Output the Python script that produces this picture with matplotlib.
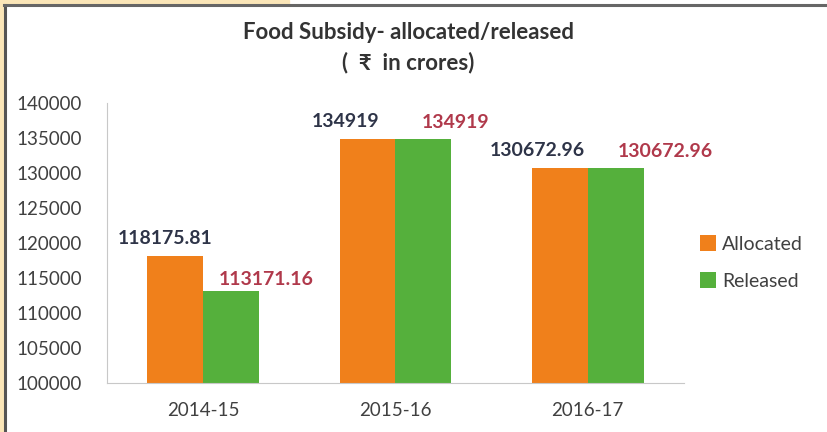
import matplotlib.pyplot as plt
import numpy as np
from matplotlib.patches import Rectangle

years = ["2014-15", "2015-16", "2016-17"]
allocated = [118175.81, 134919, 130672.96]
released = [113171.16, 134919, 130672.96]
alloc_labels = ["118175.81", "134919", "130672.96"]
rel_labels = ["113171.16", "134919", "130672.96"]

plt.rcParams['font.family'] = ['Lato', 'DejaVu Sans']

fig = plt.figure(figsize=(8.27, 4.32), dpi=100)
ax = fig.add_axes([0.129, 0.1134, 0.698, 0.6482])

x = np.arange(len(years))
w = 0.29
ax.bar(x - w / 2, allocated, w, color='#F0801B', label='Allocated')
ax.bar(x + w / 2, released, w, color='#55B03C', label='Released')

# data labels (Excel-style, shifted off the bar centres)
alloc_dx = [-10, -22, -22]
rel_dx = [35, 32, 50]
for i in range(len(years)):
    ax.annotate(alloc_labels[i], (x[i] - w / 2, allocated[i]), xytext=(alloc_dx[i], 9),
                textcoords='offset pixels', ha='center', va='bottom',
                fontsize=14, fontweight='bold', color='#2E3448')
    ax.annotate(rel_labels[i], (x[i] + w / 2, released[i]), xytext=(rel_dx[i], 3 if i == 0 else 8),
                textcoords='offset pixels', ha='center', va='bottom',
                fontsize=14, fontweight='bold', color='#B0394B')

ax.set_xlim(-0.5, 2.5)
ax.set_ylim(100000, 140000)
ax.set_yticks(np.arange(100000, 140001, 5000))
ax.set_xticks(x)
ax.set_xticklabels(years)
ax.tick_params(axis='both', length=0, labelsize=13.5, labelcolor='#404040')
ax.tick_params(axis='y', pad=18)
ax.tick_params(axis='x', pad=14)
for s in ['top', 'right']:
    ax.spines[s].set_visible(False)
for s in ['left', 'bottom']:
    ax.spines[s].set_color('#C8C8C8')

ax.legend(loc='center left', bbox_to_anchor=(0.997, 0.43), frameon=False, fontsize=14,
          handlelength=0.85, handleheight=0.85, handletextpad=0.3, labelspacing=1.0,
          labelcolor='#404040')

fig.text(0.494, 0.925, "Food Subsidy- allocated/released", ha='center', va='center',
         fontsize=16, fontweight='bold', color='#333333')
fig.text(0.494, 0.855, "(  \u20b9  in crores)", ha='center', va='center',
         fontsize=16, fontweight='bold', color='#333333')

# frame lines and faint gold corner
fig.patches.append(Rectangle((0, 0.99), 0.35, 0.01, transform=fig.transFigure,
                             color='#FBE6B8', zorder=0))
fig.patches.append(Rectangle((0, 0), 0.004, 1, transform=fig.transFigure,
                             color='#FBE6B8', zorder=0))
fig.add_artist(plt.Line2D([0.0055, 0.0055], [0, 0.988], transform=fig.transFigure,
                          color='#555555', lw=2.2))
fig.add_artist(plt.Line2D([0.0045, 1], [0.988, 0.988], transform=fig.transFigure,
                          color='#666666', lw=2.2))

fig.savefig('out.png', dpi=100)
